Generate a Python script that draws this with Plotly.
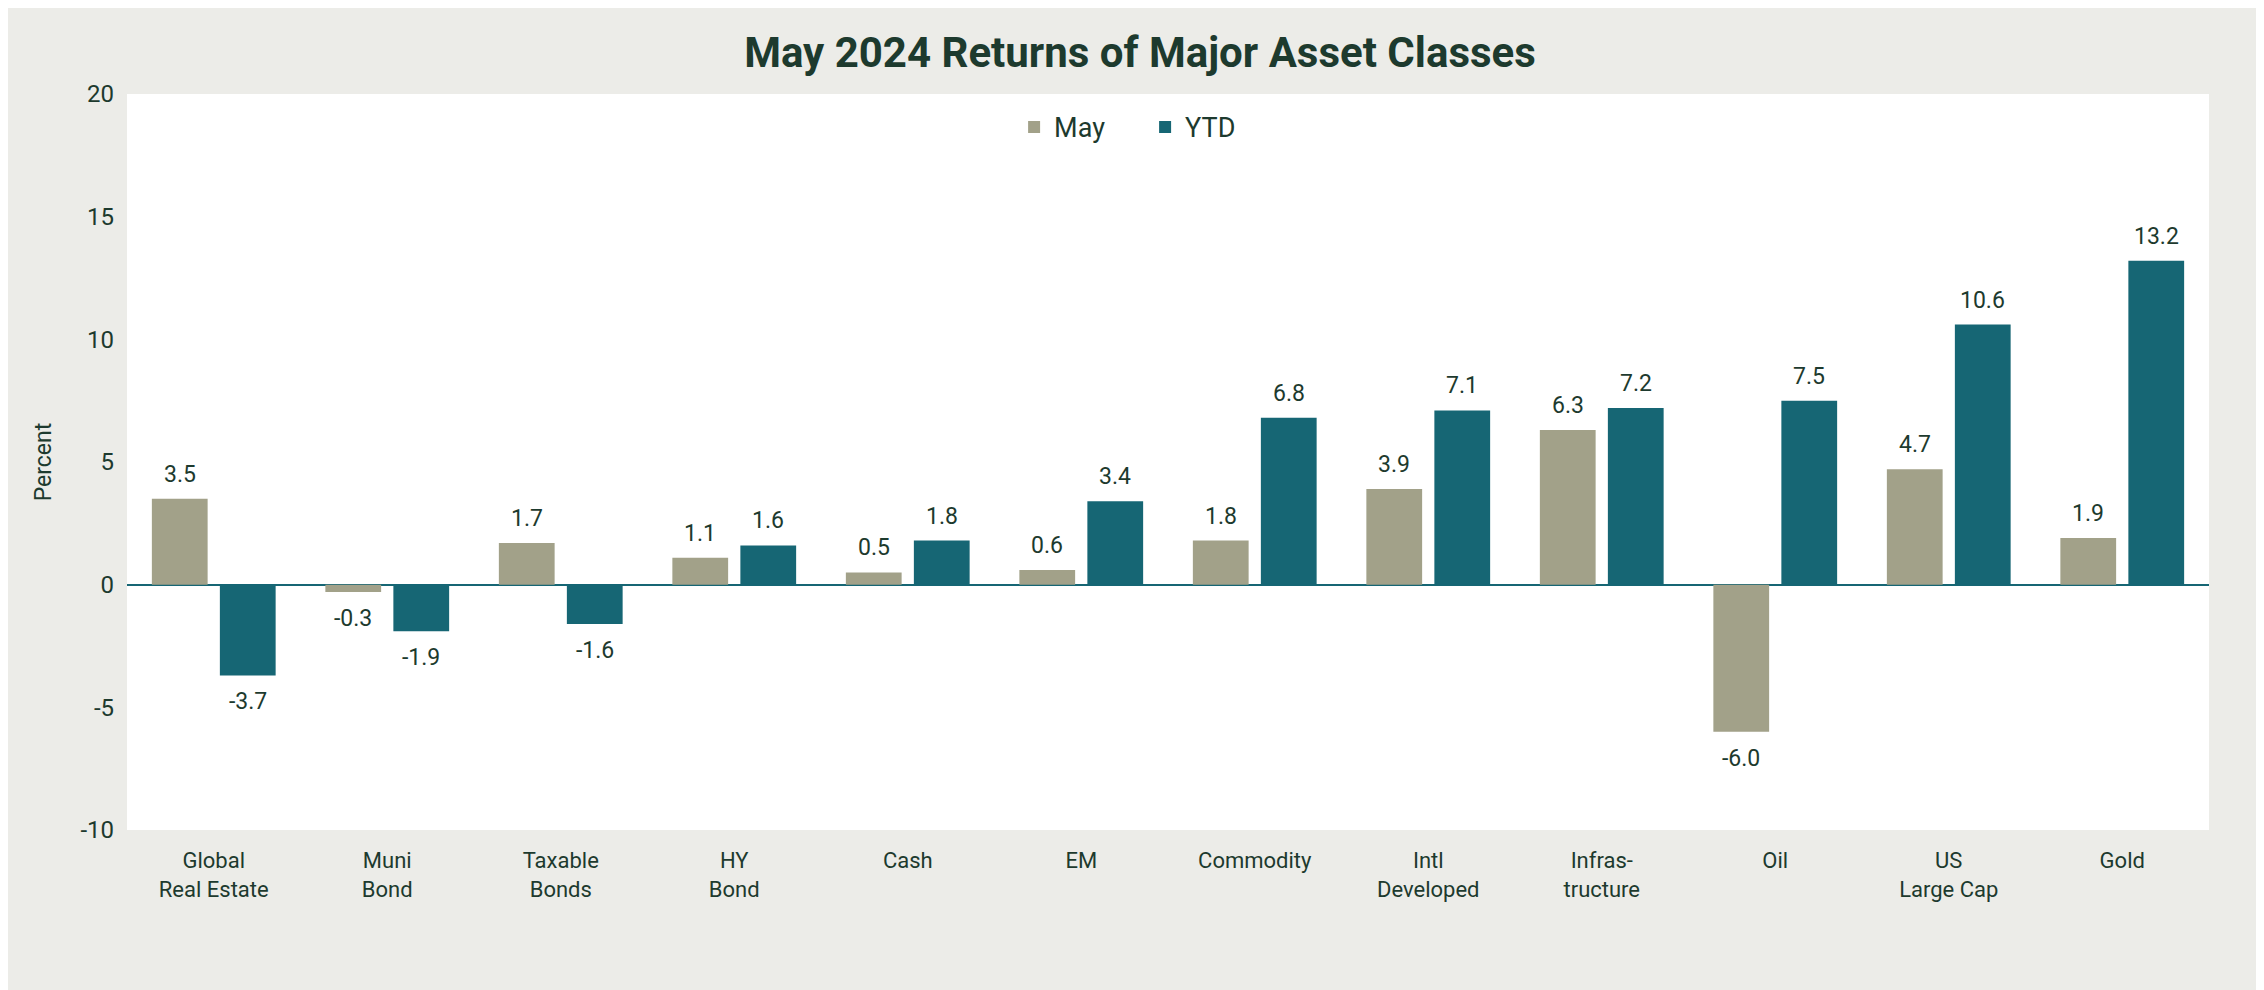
import plotly.graph_objects as go

categories = ["Global<br>Real Estate", "Muni<br>Bond", "Taxable<br>Bonds", "HY<br>Bond", "Cash", "EM",
              "Commodity", "Intl<br>Developed", "Infras-<br>tructure", "Oil", "US<br>Large Cap", "Gold"]
may_values = [3.5, -0.3, 1.7, 1.1, 0.5, 0.6, 1.8, 3.9, 6.3, -6.0, 4.7, 1.9]
ytd_values = [-3.7, -1.9, -1.6, 1.6, 1.8, 3.4, 6.8, 7.1, 7.2, 7.5, 10.6, 13.2]
y_ticks = [-10, -5, 0, 5, 10, 15, 20]
y_ticktext = ["-10", "-5", "0", "5", "10", "15", "20"]

TEXT = "#1D3A2E"
MAY_C = "#A2A189"
YTD_C = "#166674"
BG = "#ECECE8"
FONT = "Roboto"

fig = go.Figure()
series = [("May", may_values, MAY_C, -34), ("YTD", ytd_values, YTD_C, 34)]
for name, vals, col, xs in series:
    fig.add_trace(go.Bar(
        x=categories, y=vals, name=name, marker=dict(color=col, line=dict(width=0)),
    ))
    for c, v in zip(categories, vals):
        fig.add_annotation(
            x=c, y=v, text=f"{v:.1f}", showarrow=False, xshift=xs,
            yanchor="bottom" if v >= 0 else "top", yshift=9 if v >= 0 else -11,
            font=dict(family=FONT, size=23, color=TEXT),
        )

fig.update_layout(
    width=2264, height=990,
    paper_bgcolor=BG, plot_bgcolor="white",
    margin=dict(l=119, r=63, t=86, b=168),
    barmode="group", bargap=0.216, bargroupgap=0.18,
    title=dict(text="<b>May 2024 Returns of Major Asset Classes</b>", x=0.5, xanchor="center",
               y=0.955, yanchor="middle", font=dict(family=FONT, size=42, color=TEXT)),
    font=dict(family=FONT, color=TEXT),
    legend=dict(orientation="h", x=0.489, xanchor="center", y=0.988, yanchor="top",
                font=dict(family=FONT, size=27, color=TEXT), bgcolor="rgba(0,0,0,0)",
                entrywidth=86, traceorder="normal"),
    showlegend=True,
)
fig.update_yaxes(range=[-10, 20], tickvals=y_ticks, ticktext=y_ticktext, showgrid=False, zeroline=True,
                 zerolinecolor=YTD_C, zerolinewidth=2,
                 tickfont=dict(family=FONT, size=24, color=TEXT), ticks="", ticklabelstandoff=12,
                 title=dict(text="Percent", font=dict(family=FONT, size=23, color=TEXT), standoff=22))
fig.update_xaxes(showgrid=False, ticks="", tickfont=dict(family=FONT, size=22, color=TEXT),
                 ticklabelstandoff=15)

fig.write_html("out.html")
